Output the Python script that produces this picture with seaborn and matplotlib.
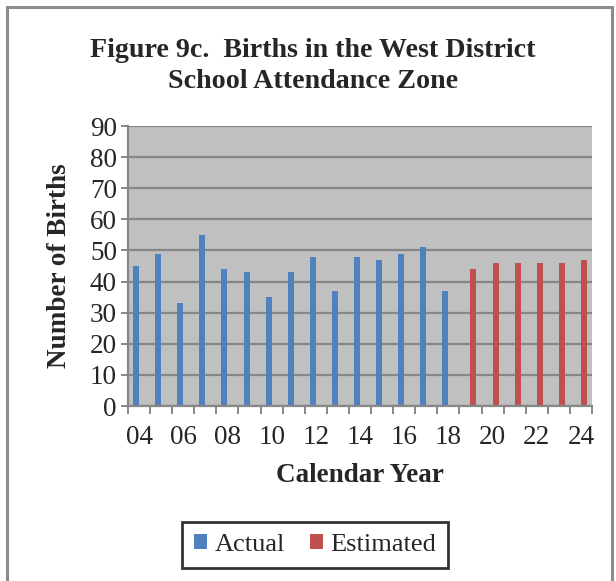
import matplotlib
matplotlib.use("Agg")
import matplotlib.pyplot as plt
from matplotlib.patches import Rectangle
from matplotlib.ticker import FixedLocator
import seaborn as sns
import pandas as pd

# Births per calendar year (two-digit year labels)
actual_years = ["04", "05", "06", "07", "08", "09", "10", "11", "12",
                "13", "14", "15", "16", "17", "18"]
actual_births = [45, 49, 33, 55, 44, 43, 35, 43, 48, 37, 48, 47, 49, 51, 37]

estimated_years = ["19", "20", "21", "22", "23", "24"]
estimated_births = [44, 46, 46, 46, 46, 47]

series_names = ["Actual", "Estimated"]
series_colors = ["#4F81BD", "#C0504D"]

title = "Figure 9c.  Births in the West District\nSchool Attendance Zone"
x_label = "Calendar Year"
y_label = "Number of Births"
y_ticks = [0, 10, 20, 30, 40, 50, 60, 70, 80, 90]

df = pd.DataFrame({
    "Year": actual_years + estimated_years,
    "Births": actual_births + estimated_births,
    "Series": [series_names[0]] * len(actual_years) + [series_names[1]] * len(estimated_years),
})
year_order = actual_years + estimated_years

sns.set_theme(style="white")
plt.rcParams["font.family"] = ["Liberation Serif", "DejaVu Serif"]

grid_gray = "#878787"
tick_fs = 19.5
label_fs = 19.5

fig = plt.figure(figsize=(6.16, 5.81), dpi=100)
ax = fig.add_axes([128 / 616, 1 - 406 / 581, 464 / 616, 280 / 581])
ax.set_facecolor("#C0C0C0")

sns.barplot(data=df, x="Year", y="Births", hue="Series", order=year_order,
            hue_order=series_names, palette=series_colors, saturation=1,
            dodge=True, width=0.545, linewidth=0, ax=ax, legend=True)

ax.set_ylim(0, 90)
ax.set_xlim(-0.5, len(year_order) - 0.5)
ax.set_yticks(y_ticks)
ax.set_yticklabels([str(v) for v in y_ticks], fontsize=tick_fs)
ax.yaxis.grid(True, color=grid_gray, linewidth=1.6)
ax.set_axisbelow(True)

# Labels on every other year at category centres, tick marks at boundaries
label_pos = list(range(0, len(year_order), 2))
ax.set_xticks(label_pos)
ax.set_xticklabels([year_order[i] for i in label_pos], fontsize=tick_fs)
ax.tick_params(axis="x", which="major", length=0, pad=14)
ax.xaxis.set_minor_locator(FixedLocator([i - 0.5 for i in range(len(year_order) + 1)]))
ax.tick_params(axis="x", which="minor", length=6, width=1.4, color=grid_gray, bottom=True)
ax.tick_params(axis="y", which="major", length=5, width=1.4, color=grid_gray, left=True, pad=3)

for side in ["top", "right"]:
    ax.spines[side].set_visible(False)
for side in ["left", "bottom"]:
    ax.spines[side].set_color(grid_gray)
    ax.spines[side].set_linewidth(1.6)

ax.set_xlabel(x_label, fontsize=label_fs, fontweight="bold")
ax.set_ylabel(y_label, fontsize=label_fs, fontweight="bold")
ax.xaxis.set_label_coords(0.5, (406 - 476) / 280, transform=ax.transAxes)
ax.yaxis.set_label_coords((60 - 128) / 464, 0.5, transform=ax.transAxes)
ax.xaxis.label.set_va("center")
ax.yaxis.label.set_va("center")

fig.text(0.508, 1 - 66 / 581, title, ha="center", va="center",
         fontsize=20.2, fontweight="bold", linespacing=1.3)

handles, labels = ax.get_legend_handles_labels()
ax.legend_.remove()
leg = fig.legend(handles, labels, loc="center", bbox_to_anchor=(315 / 616, 1 - 545 / 581),
                 ncol=2, fontsize=19, frameon=True, fancybox=False,
                 handlelength=0.5, handleheight=0.5, handletextpad=0.27,
                 columnspacing=0.95, borderpad=0.45, borderaxespad=0)
leg.get_frame().set_edgecolor("black")
leg.get_frame().set_linewidth(2)

# Outer chart border
fig.patches.append(Rectangle((7 / 616, -0.02), 605 / 616, 1.02 - 7 / 581,
                             transform=fig.transFigure, fill=False,
                             edgecolor="#8C8C8C", linewidth=2.2))

fig.savefig("out.png", dpi=100)
